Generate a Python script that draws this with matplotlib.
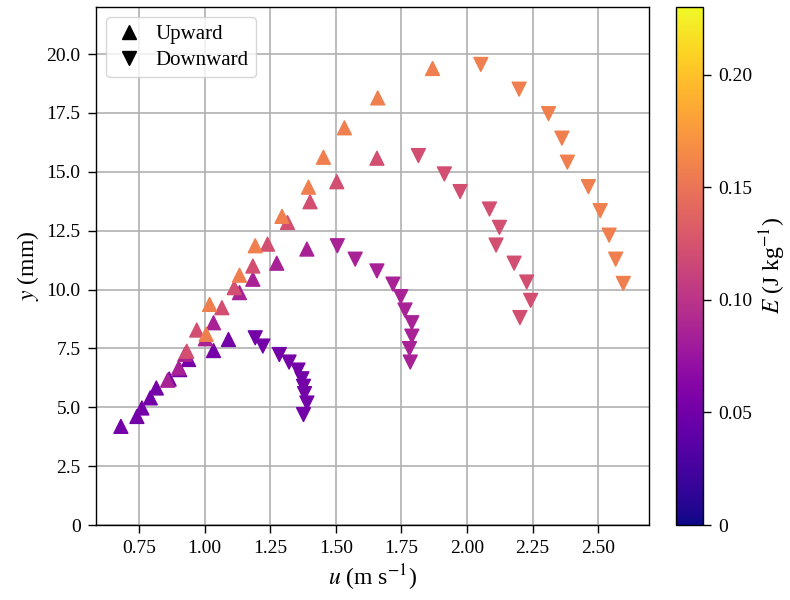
import numpy as np
import matplotlib
matplotlib.use('Agg')
import matplotlib.pyplot as plt
from matplotlib.lines import Line2D

plt.rcParams['font.family'] = ['Liberation Serif', 'DejaVu Serif']
plt.rcParams['mathtext.fontset'] = 'stix'
plt.rcParams['font.size'] = 14
plt.rcParams['axes.linewidth'] = 1.0
for k in ('xtick', 'ytick'):
    plt.rcParams[k + '.major.size'] = 6
    plt.rcParams[k + '.major.width'] = 1.0
    plt.rcParams[k + '.major.pad'] = 5

# upward phase (u in m/s, y in mm, E in J/kg), four trajectories
up_u = [0.681, 0.742, 0.761, 0.793, 0.816, 0.865, 0.905, 0.939, 1.034, 1.091,
        0.859, 0.901, 0.925, 1.003, 1.034, 1.133, 1.184, 1.275, 1.390,
        0.932, 0.970, 1.066, 1.113, 1.184, 1.240, 1.316, 1.402, 1.504, 1.657,
        1.006, 1.019, 1.133, 1.193, 1.295, 1.396, 1.453, 1.533, 1.660, 1.869]
up_y = [4.19, 4.61, 4.97, 5.40, 5.82, 6.20, 6.60, 7.03, 7.41, 7.88,
        6.15, 6.67, 7.25, 7.91, 8.59, 9.87, 10.44, 11.12, 11.72,
        7.38, 8.28, 9.23, 10.08, 11.00, 11.93, 12.85, 13.73, 14.58, 15.58,
        8.10, 9.37, 10.61, 11.86, 13.11, 14.35, 15.62, 16.87, 18.14, 19.39]
up_E = [0.052] * 10 + [0.086] * 9 + [0.122] * 10 + [0.158] * 10

# downward phase
down_u = [1.193, 1.222, 1.285, 1.322, 1.356, 1.371, 1.377, 1.381, 1.390, 1.377,
          1.506, 1.574, 1.657, 1.718, 1.748, 1.764, 1.790, 1.790, 1.781, 1.784,
          1.815, 1.914, 1.974, 2.086, 2.124, 2.111, 2.180, 2.228, 2.243, 2.202,
          2.053, 2.199, 2.311, 2.362, 2.383, 2.463, 2.508, 2.542, 2.567, 2.596]
down_y = [7.95, 7.60, 7.24, 6.92, 6.58, 6.21, 5.89, 5.58, 5.18, 4.69,
          11.86, 11.29, 10.79, 10.23, 9.70, 9.13, 8.59, 8.02, 7.49, 6.92,
          15.69, 14.91, 14.16, 13.42, 12.64, 11.89, 11.12, 10.32, 9.54, 8.81,
          19.56, 18.51, 17.47, 16.43, 15.41, 14.37, 13.35, 12.31, 11.29, 10.26]
down_E = [0.052] * 10 + [0.086] * 10 + [0.122] * 10 + [0.158] * 10

x_ticks = [0.75, 1.00, 1.25, 1.50, 1.75, 2.00, 2.25, 2.50]
y_ticks = [0, 2.5, 5.0, 7.5, 10.0, 12.5, 15.0, 17.5, 20.0]
y_labels = ['0', '2.5', '5.0', '7.5', '10.0', '12.5', '15.0', '17.5', '20.0']
cb_ticks = [0, 0.05, 0.10, 0.15, 0.20]
cb_labels = ['0', '0.05', '0.10', '0.15', '0.20']

fig = plt.figure(figsize=(7.9, 6.0), dpi=100)
ax = fig.add_axes([0.1215, 0.125, 0.700, 0.8633])
cax = fig.add_axes([0.8557, 0.125, 0.0342, 0.8633])

sc = ax.scatter(up_u, up_y, c=up_E, cmap='plasma', vmin=0, vmax=0.23,
                marker='^', s=100, zorder=3)
ax.scatter(down_u, down_y, c=down_E, cmap='plasma', vmin=0, vmax=0.23,
           marker='v', s=100, zorder=3)

ax.set_xlim(0.586, 2.694)
ax.set_ylim(0, 22)
ax.set_xticks(x_ticks)
ax.set_xticklabels(['%.2f' % t for t in x_ticks])
ax.set_yticks(y_ticks)
ax.set_yticklabels(y_labels)
ax.set_axisbelow(True)
ax.grid(True, color='#b0b0b0', lw=1.2)
ax.set_xlabel(r'$u$ (m s$^{-1}$)', fontsize=17)
ax.set_ylabel(r'$y$ (mm)', fontsize=17)

handles = [Line2D([], [], marker='^', color='k', ls='none', markersize=10),
           Line2D([], [], marker='v', color='k', ls='none', markersize=10)]
ax.legend(handles, ['Upward', 'Downward'], loc='upper left', fontsize=15,
          handlelength=1.5, handletextpad=0.5, borderpad=0.35, labelspacing=0.3)

cb = fig.colorbar(sc, cax=cax)
cb.set_ticks(cb_ticks)
cb.set_ticklabels(cb_labels)
cb.set_label(r'$E$ (J kg$^{-1}$)', fontsize=17, labelpad=4)
cb.outline.set_linewidth(1.0)

fig.savefig('out.png', dpi=100)
